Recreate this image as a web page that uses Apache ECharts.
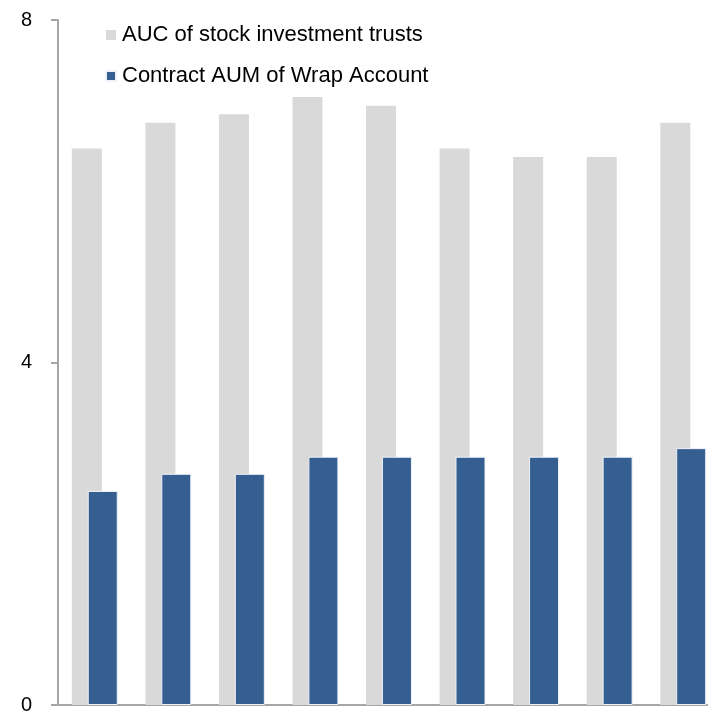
<!DOCTYPE html>
<html>
<head>
<meta charset="utf-8">
<script src="https://cdn.jsdelivr.net/npm/echarts@6/dist/echarts.min.js"></script>
<style>
  html, body { margin: 0; padding: 0; background: #fff; }
  #chart { width: 708px; height: 711px; }
</style>
</head>
<body>
<div id="chart"></div>
<script>
// Nine periods, two series
const categories = ['1', '2', '3', '4', '5', '6', '7', '8', '9'];
const aucStockTrusts = [6.5, 6.8, 6.9, 7.1, 7.0, 6.5, 6.4, 6.4, 6.8];
const wrapContractAum = [2.5, 2.7, 2.7, 2.9, 2.9, 2.9, 2.9, 2.9, 3.0];
const yTicks = [0, 4, 8];

const FONT = '"Liberation Sans", Arial, sans-serif';

const chart = echarts.init(document.getElementById('chart'), null, { renderer: 'canvas' });
chart.setOption({
  animation: false,
  backgroundColor: '#ffffff',
  legend: {
    orient: 'vertical',
    left: 105,
    top: 24,
    padding: 0,
    itemWidth: 10,
    itemHeight: 10,
    itemGap: 19,
    icon: 'rect',
    textStyle: { fontFamily: FONT, fontSize: 22, color: '#000', padding: [0, 0, 0, 1] },
    data: ['AUC of stock investment trusts', 'Contract AUM of Wrap Account']
  },
  grid: { left: 58, top: 20, width: 662, height: 685, outerBoundsMode: 'none', containLabel: false },
  xAxis: {
    type: 'category',
    data: categories,
    axisLine: { show: true, lineStyle: { color: '#a6a6a6', width: 2 } },
    axisTick: { show: false },
    axisLabel: { show: false },
    splitLine: { show: false }
  },
  yAxis: {
    type: 'value',
    min: yTicks[0],
    max: yTicks[yTicks.length - 1],
    interval: yTicks[1] - yTicks[0],
    axisLine: { show: true, lineStyle: { color: '#a6a6a6', width: 2 } },
    axisTick: { show: true, inside: false, length: 7, lineStyle: { color: '#a6a6a6', width: 2 } },
    axisLabel: { margin: 26, fontFamily: FONT, fontSize: 20, color: '#000' },
    splitLine: { show: false }
  },
  series: [
    {
      name: 'AUC of stock investment trusts',
      type: 'bar',
      data: aucStockTrusts,
      barWidth: 30,
      barGap: '-47%',
      itemStyle: { color: '#d9d9d9' }
    },
    {
      name: 'Contract AUM of Wrap Account',
      type: 'bar',
      data: wrapContractAum,
      barWidth: 30,
      itemStyle: { color: '#355f91', borderColor: '#eef2f8', borderWidth: 1 }
    }
  ]
});
</script>
</body>
</html>
